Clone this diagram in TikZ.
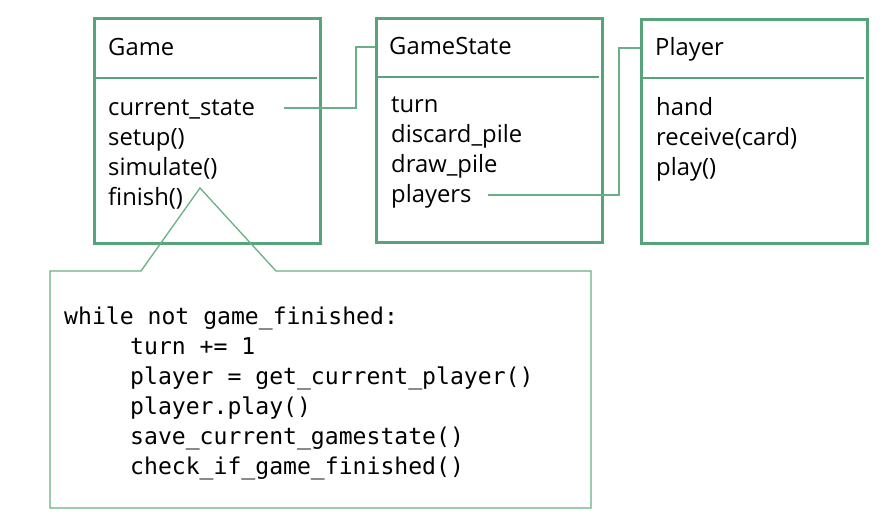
\documentclass[tikz,border=0pt]{standalone}
\usepackage{fontspec}
\setmainfont{Open Sans}
\newfontfamily\codefont{DejaVu Sans Mono}
\definecolor{boxgreen}{RGB}{88,164,122}
\definecolor{linkgreen}{RGB}{104,176,134}
\begin{document}
\begin{tikzpicture}[x=1pt,y=-1pt,
  umlbox/.style={draw=boxgreen, line width=3pt, anchor=north west, inner sep=0pt},
  sep/.style={draw=boxgreen, line width=1.3pt},
  link/.style={draw=linkgreen, line width=1.3pt},
  txt/.style={anchor=base west, inner sep=0pt, font=\fontsize{23.8}{30}\selectfont},
  code/.style={anchor=base west, inner sep=0pt, font=\codefont\fontsize{23.1}{30}\selectfont}]
\useasboundingbox[fill=white] (0,0) rectangle (888,527);

% class boxes
\node[umlbox, minimum width=226pt, minimum height=225pt] (game) at (93,17) {};
\node[umlbox, minimum width=226pt, minimum height=224pt] (gstate) at (375,17) {};
\node[umlbox, minimum width=226pt, minimum height=224pt] (player) at (640,18) {};

% header separators
\draw[sep] (95,78) -- (317,78);
\draw[sep] (377,77) -- (599,77);
\draw[sep] (642,78) -- (864,78);

% Game
\node[txt] (gameTitle) at (108,56) {Game};
\node[txt] (gCur) at (108,115) {current\_state};
\node[txt] (gSetup) at (108,145) {setup()};
\node[txt] (gSim) at (108,175) {simulate()};
\node[txt] (gFin) at (108,205) {finish()};

% GameState
\node[txt] (gsTitle) at (389,55) {GameState};
\node[txt] (gsTurn) at (391,112) {turn};
\node[txt] (gsDiscard) at (391,142) {discard\_pile};
\node[txt] (gsDraw) at (391,172) {draw\_pile};
\node[txt] (gsPlayers) at (391,202) {players};

% Player
\node[txt] (pTitle) at (655,56) {Player};
\node[txt] (pHand) at (656,115) {hand};
\node[txt] (pRecv) at (656,145) {receive(card)};
\node[txt] (pPlay) at (656,175) {play()};

% associations
\coordinate (curEnd) at (284,108);
\coordinate (curBend) at (356,108);
\coordinate (gsIn) at (375,47);
\draw[link] (curEnd) -- (curBend) |- (gsIn);
\coordinate (plEnd) at (488,195);
\coordinate (plBend) at (619,195);
\coordinate (pIn) at (640,48);
\draw[link] (plEnd) -- (plBend) |- (pIn);

% callout with the simulate() loop
\coordinate (apex) at (200,188);
\coordinate (cl) at (141,271);
\coordinate (cr) at (276,271);
\draw[link, line join=miter] (cl) -- (apex) -- (cr) -- (591,271) -- (591,508) -- (50,508) -- (50,271) -- cycle;

\node[code] (c1) at (64,324) {while not game\_finished:};
\node[code] (c2) at (130,354) {turn += 1};
\node[code] (c3) at (130,384) {player = get\_current\_player()};
\node[code] (c4) at (130,414) {player.play()};
\node[code] (c5) at (130,444) {save\_current\_gamestate()};
\node[code] (c6) at (130,474) {check\_if\_game\_finished()};
\end{tikzpicture}
\end{document}
